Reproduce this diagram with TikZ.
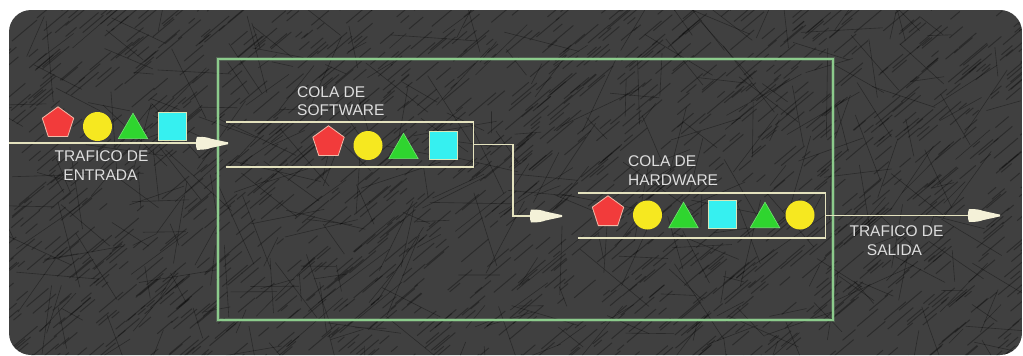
\documentclass[tikz,border=0pt]{standalone}
\usepackage{fontspec}
\setmainfont{Liberation Sans}
\usetikzlibrary{shapes.geometric}

\definecolor{panel}{HTML}{404040}
\definecolor{rail}{HTML}{E4E2BE}
\definecolor{router}{HTML}{8CCB8C}
\definecolor{headcol}{HTML}{F4F1D8}
\definecolor{txt}{HTML}{DEDEDE}
\definecolor{pktred}{HTML}{F23B3B}
\definecolor{pktrededge}{HTML}{F2B9A8}
\definecolor{pktyel}{HTML}{F6E820}
\definecolor{pktgrn}{HTML}{2FD52F}
\definecolor{pktgrnedge}{HTML}{6FE66F}
\definecolor{pktcyan}{HTML}{36F0F0}
\definecolor{pktcyanedge}{HTML}{D8E6B8}

\tikzset{
  pent/.style={regular polygon, regular polygon sides=5, minimum size=33pt,
    inner sep=0pt, fill=pktred, draw=pktrededge, line width=0.8pt, anchor=south},
  disc/.style={circle, minimum size=29pt, inner sep=0pt, fill=pktyel},
  tri/.style={regular polygon, regular polygon sides=3, minimum size=34pt,
    inner sep=0pt, fill=pktgrn, draw=pktgrnedge, line width=0.6pt, anchor=south},
  sq/.style={rectangle, minimum size=28pt, inner sep=0pt, fill=pktcyan,
    draw=pktcyanedge, line width=0.9pt},
  queuebox/.style={rectangle, minimum width=247pt, minimum height=44.4pt, inner sep=0pt},
  queueline/.style={draw=rail, line width=1.4pt},
  link/.style={draw=rail, line width=1.8pt},
  lab/.style={text=txt, inner sep=0pt, font=\fontsize{15.5}{18}\selectfont},
  streak/.style={black, opacity=0.3, line width=1pt},
  scribble/.style={black, opacity=0.33, line width=0.6pt},
  headtip/.pic={
    \fill[headcol] (-31,-6.5) .. controls (-24,-6.6) and (-20,-5.8) .. (-17,-4.6)
      -- (0,-0.9) -- (0,0.9) -- (-17,4.6) .. controls (-20,5.8) and (-24,6.6) .. (-31,6.5)
      .. controls (-32.5,3) and (-32.5,-3) .. (-31,-6.5) -- cycle;
  }
}

\begin{document}
\begin{tikzpicture}[x=1pt, y=-1pt]
\useasboundingbox (0,0) rectangle (1023,356);

% textured dark panel
\begin{scope}
  \clip[rounded corners=22pt] (9,10) rectangle (1022,355);
  \fill[panel] (0,0) rectangle (1023,356);
  \pgfmathsetseed{42}
  \foreach \i in {1,...,1500}{
    \pgfmathsetmacro{\sx}{-30+1070*rnd}
    \pgfmathsetmacro{\sy}{5+380*rnd}
    \pgfmathsetmacro{\sl}{8+28*rnd}
    \draw[streak] (\sx,\sy) -- ++(-40:\sl);
  }
  \foreach \i in {1,...,380}{
    \pgfmathsetmacro{\sx}{10+990*rnd}
    \pgfmathsetmacro{\sy}{30+320*rnd}
    \pgfmathsetmacro{\sl}{20+70*rnd}
    \pgfmathsetmacro{\sa}{360*rnd}
    \draw[scribble] (\sx,\sy) -- ++(\sa:\sl);
  }
\end{scope}

% router outline
\node[rectangle, minimum width=615pt, minimum height=261pt, inner sep=0pt,
      draw=router, line width=3.2pt, opacity=0.25] (routerglow) at (525.5,189.5) {};
\node[rectangle, minimum width=615pt, minimum height=261pt, inner sep=0pt,
      draw=router, line width=1.3pt] (routerbox) at (525.5,189.5) {};

% queues (open on the input side)
\node[queuebox] (sw) at (349.5,144.5) {};
\node[queuebox] (hw) at (701.5,215.5) {};
\draw[queueline] (sw.north west) -- (sw.north east) -- (sw.south east) -- (sw.south west);
\draw[queueline] (hw.north west) -- (hw.north east) -- (hw.south east) -- (hw.south west);

% connectors
\coordinate (src) at (9,143.3);
\coordinate (swin) at (228,143.3);
\coordinate (hwin) at (562,216);
\coordinate (sink) at (1000,215.5);
\draw[link] (src) -- (swin);
\draw[link] (sw.east) -- ++(40,0) |- (hwin);
\draw[link] (hw.east) -- (sink);
\pic at (swin) {headtip};
\pic at (hwin) {headtip};
\pic at (sink) {headtip};

% incoming packets
\node[pent] (inp1) at (58,137) {};
\node[disc] (inp2) at (97.5,126.5) {};
\node[tri]  (inp3) at (133,139) {};
\node[sq]   (inp4) at (172.5,126) {};

% software queue packets
\node[pent] (swp1) at (328.5,156) {};
\node[disc] (swp2) at (368,145.5) {};
\node[tri]  (swp3) at (403.5,159) {};
\node[sq]   (swp4) at (443.5,145.5) {};

% hardware queue packets
\node[pent] (hwp1) at (608,226) {};
\node[disc] (hwp2) at (647.5,215) {};
\node[tri]  (hwp3) at (683.5,228) {};
\node[sq]   (hwp4) at (722.5,214) {};
\node[tri]  (hwp5) at (765,228) {};
\node[disc] (hwp6) at (800,215) {};

% labels
\node[lab, anchor=base] (inlab1) at (101.5,161.7) {TRAFICO DE};
\node[lab, anchor=base] (inlab2) at (100.5,180) {ENTRADA};
\node[lab, anchor=base west] (swlab1) at (297,97.3) {COLA DE};
\node[lab, anchor=base west] (swlab2) at (297,115) {SOFTWARE};
\node[lab, anchor=base west] (hwlab1) at (628,166.7) {COLA DE};
\node[lab, anchor=base west] (hwlab2) at (628,185) {HARDWARE};
\node[lab, anchor=base] (outlab1) at (896.5,236.7) {TRAFICO DE};
\node[lab, anchor=base] (outlab2) at (894.5,255) {SALIDA};
\end{tikzpicture}
\end{document}
